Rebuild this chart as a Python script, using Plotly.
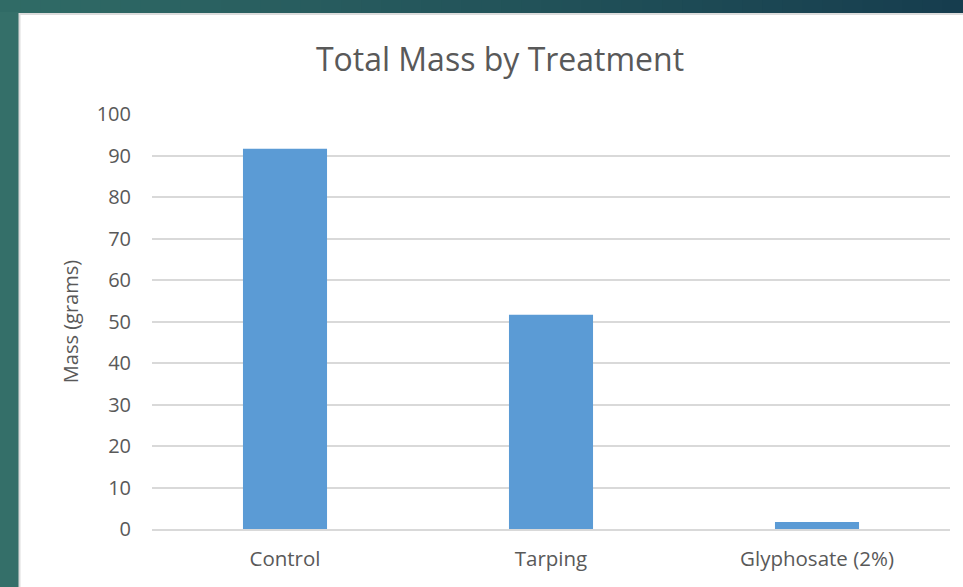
import plotly.graph_objects as go

categories = ["Control", "Tarping", "Glyphosate (2%)"]
mass_grams = [91.6, 51.6, 1.7]
y_ticks = [0, 10, 20, 30, 40, 50, 60, 70, 80, 90, 100]

W, H = 963, 587
L, R, T, B = 152, 13, 114, 58
PW, PH = W - L - R, H - T - B


def px(x):
    return (x - L) / PW


def py(y):
    return (H - B - y) / PH


fig = go.Figure()
fig.add_trace(go.Bar(
    x=categories, y=mass_grams,
    marker=dict(color="#5b9bd5", line=dict(width=0)),
    hoverinfo="x+y",
))

shapes = []
def lerp(c1, c2, t):
    return "#%02x%02x%02x" % tuple(int(round(a + (b - a) * t)) for a, b in zip(c1, c2))

# top gradient strip (teal -> dark blue)
c_left = (0x30, 0x6b, 0x66)
c_right = (0x16, 0x3d, 0x4e)
n = 48
for i in range(n):
    x0 = W * i / n
    x1 = W * (i + 1) / n + 1
    shapes.append(dict(type="rect", xref="paper", yref="paper", layer="below",
                       x0=px(x0), x1=px(x1), y0=py(16), y1=py(-2),
                       fillcolor=lerp(c_left, c_right, (i + 0.5) / n), line=dict(width=0)))
# left strip
shapes.append(dict(type="rect", xref="paper", yref="paper", layer="below",
                   x0=px(-2), x1=px(20), y0=py(H + 2), y1=py(12),
                   fillcolor="#346f69", line=dict(width=0)))
# light border + white card
shapes.append(dict(type="rect", xref="paper", yref="paper", layer="below",
                   x0=px(18.5), x1=px(W + 5), y0=py(H + 5), y1=py(13),
                   fillcolor="#dcdcdc", line=dict(width=0)))
shapes.append(dict(type="rect", xref="paper", yref="paper", layer="below",
                   x0=px(20.5), x1=px(W + 5), y0=py(H + 5), y1=py(15),
                   fillcolor="#ffffff", line=dict(width=0)))

fig.update_layout(
    width=W, height=H,
    margin=dict(l=L, r=R, t=T, b=B, pad=0),
    paper_bgcolor="#346f69",
    plot_bgcolor="rgba(0,0,0,0)",
    font=dict(family="Open Sans, Noto Sans, sans-serif", color="#595959"),
    title=dict(text="Total Mass by Treatment", x=500 / W, xanchor="center",
               y=1 - 60 / H, yanchor="middle",
               font=dict(size=32, color="#595959")),
    bargap=0.684,
    showlegend=False,
    shapes=shapes,
    xaxis=dict(showgrid=False, showline=True, linecolor="#d9d9d9", linewidth=1.5,
               ticks="", ticklabelstandoff=11,
               tickfont=dict(size=20.5, color="#595959"), fixedrange=True),
    yaxis=dict(range=[0, 100], tickvals=y_ticks, showgrid=True, gridcolor="#d9d9d9",
               gridwidth=1.5, zeroline=False, showline=False, ticks="",
               ticklabelstandoff=20,
               tickfont=dict(size=20, color="#595959"),
               title=dict(text="Mass (grams)", font=dict(size=20, color="#595959"), standoff=12)),
)

fig.write_html("out.html", config={"displayModeBar": False},
               post_script="document.body.style.margin='0px';document.body.style.overflow='hidden';")
